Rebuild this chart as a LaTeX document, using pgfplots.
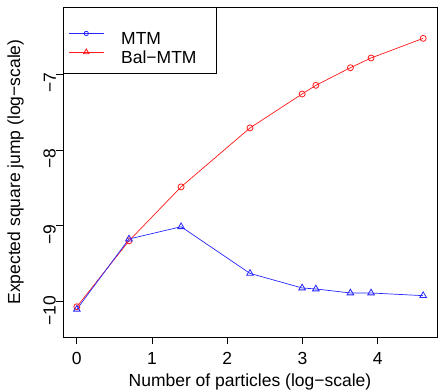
\documentclass[border=0pt]{standalone}
\usepackage{fontspec}
\setmainfont{Liberation Sans}
\usepackage{pgfplots}
\pgfplotsset{compat=1.18}
\begin{document}
\begin{tikzpicture}
\useasboundingbox (-63pt,-54pt) rectangle (375pt,337pt);
\begin{axis}[
  at={(0,0)}, anchor=south west,
  scale only axis, width=374pt, height=330pt,
  xmin=-0.184, xmax=4.789, ymin=-10.465, ymax=-6.117,
  xtick={0,1,2,3,4}, xticklabels={0,1,2,3,4},
  ytick={-10,-9,-8,-7}, yticklabels={−10,−9,−8,−7},
  tick align=outside, xtick pos=left, ytick pos=left,
  major tick length=7pt,
  tick style={black, line width=0.8pt},
  axis line style={black, line width=0.8pt},
  ticklabel style={font=\fontsize{17.5}{20}\selectfont, inner sep=0pt},
  xticklabel style={anchor=north, yshift=-8.5pt},
  yticklabel style={rotate=90, anchor=south, xshift=-9pt},
  xlabel={Number of particles (log−scale)},
  ylabel={Expected square jump (log−scale)},
  every axis x label/.style={at={(axis description cs:0.5,-0.1373)}, anchor=center, font=\fontsize{17.5}{20}\selectfont},
  every axis y label/.style={at={(axis description cs:-0.127,0.5)}, rotate=90, anchor=center, font=\fontsize{17.5}{20}\selectfont},
  legend style={at={(0,1)}, anchor=north west, draw=black, line width=0.8pt, fill=white,
    font=\fontsize{17.5}{20}\selectfont, inner xsep=5pt, inner ysep=17.5pt, row sep=6.2pt,
    nodes={inner sep=0pt, text height=12.5pt, text depth=0pt, text width=90pt},
    /tikz/every odd column/.append style={column sep=17pt}},
  legend cell align=left,
  legend image code/.code={\path (0pt,0pt) (35pt,0pt);\draw[overlay, mark repeat=2, mark phase=2] plot coordinates {(0pt,-2.3pt)(17.5pt,-2.3pt)(35pt,-2.3pt)};},
]
\addlegendimage{blue!85, line width=0.8pt, mark=o, mark size=2.2pt, mark options={solid}}
\addlegendentry{\raisebox{-7.5pt}[12.5pt][0pt]{MTM}}
\addlegendimage{red!90, line width=0.8pt, mark=triangle, mark size=3.2pt, mark options={solid}}
\addlegendentry{\raisebox{-7.5pt}[12.5pt][0pt]{Bal−MTM}}
\addplot[red!90, line width=0.7pt, mark=o, mark size=3pt, mark options={line width=0.8pt}, forget plot] coordinates {
  (0,-10.066) (0.6931,-9.198) (1.3863,-8.487) (2.3026,-7.710) (2.9957,-7.263)
  (3.1781,-7.149) (3.6376,-6.917) (3.9120,-6.789) (4.6052,-6.530)
};
\addplot[blue!85, line width=0.7pt, mark=triangle, mark size=3.8pt, mark options={line width=0.8pt}, forget plot] coordinates {
  (0,-10.099) (0.6931,-9.174) (1.3863,-9.012) (2.3026,-9.627) (2.9957,-9.819)
  (3.1781,-9.832) (3.6376,-9.885) (3.9120,-9.885) (4.6052,-9.920)
};
\end{axis}
\end{tikzpicture}
\end{document}
